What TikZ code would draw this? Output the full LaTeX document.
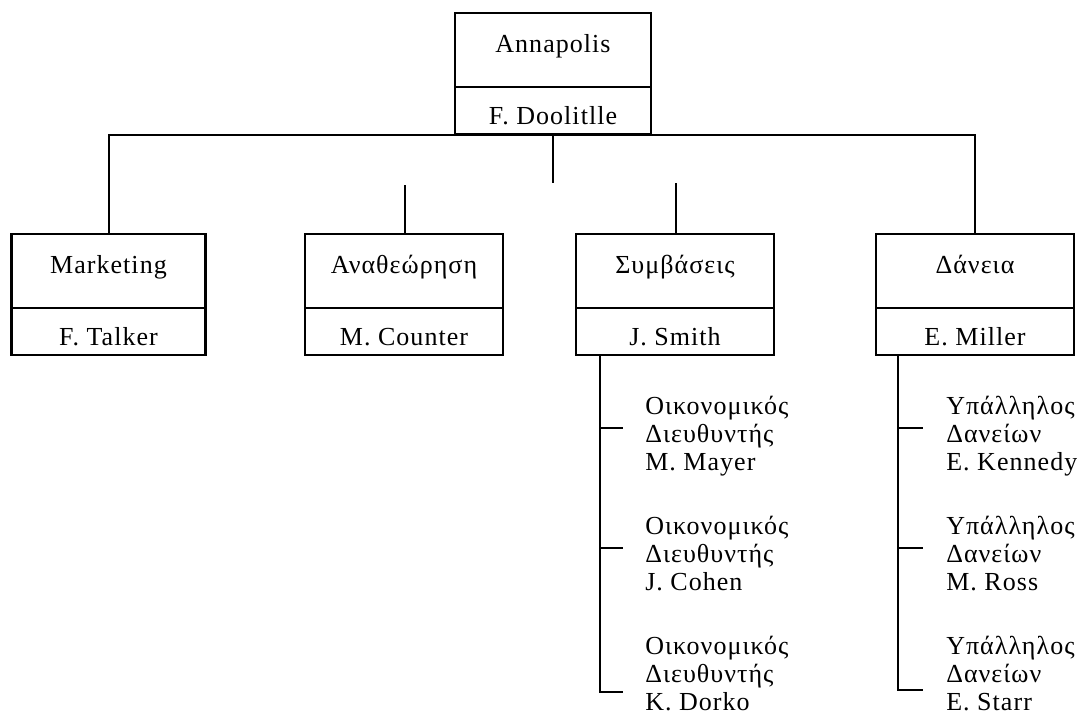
\documentclass[tikz,border=0pt]{standalone}
\usepackage{fontspec}
\setmainfont{Liberation Serif}[LetterSpace=4]
\usetikzlibrary{calc}

% one organisational unit: a title cell on top of a name cell
% #1 name, #2 centre x, #3 top y, #4 width, #5 title, #6 person
\newcommand\orgunit[6]{%
  \node[headcell, minimum width=#4*0.75pt] (#1) at (#2,#3+37) {};
  \node[namecell, minimum width=#4*0.75pt] (#1-p) at (#2,#3+74+23.5) {};
  \node[celltext] (#1-t) at (#2,#3+39) {#5};
  \node[celltext] (#1-n) at (#2,#3+74+37) {#6};
}

% three lines of a staff entry, first baseline at (#2,#3)
\newcommand\staffentry[6]{%
  \node[staffline] (#1) at (#2,#3) {#4};
  \node[staffline] (#1-b) at (#2,#3+28) {#5};
  \node[staffline] (#1-c) at (#2,#3+56) {#6};
}

\begin{document}
\begin{tikzpicture}[x=0.75pt,y=-0.75pt,
  font=\fontsize{19.5}{22}\selectfont,
  headcell/.style={draw, line width=1.6pt, minimum height=74*0.75pt, inner sep=0pt},
  namecell/.style={draw, line width=1.6pt, minimum height=47*0.75pt, inner sep=0pt},
  celltext/.style={anchor=base, inner sep=0pt},
  staffline/.style={anchor=base west, inner sep=0pt},
  wire/.style={line width=1.5pt},
  twig/.style={line width=1.1pt}]

\useasboundingbox (0,0) rectangle (1077,722);

% boxes
\orgunit{root}{553}{13}{196}{Annapolis}{F. Doolitlle}
\orgunit{mkt}{108.5}{234}{194}{Marketing}{F. Talker}
\orgunit{ana}{404}{234}{198}{Αναθεώρηση}{M. Counter}
\orgunit{con}{675}{234}{198}{Συμβάσεις}{J. Smith}
\orgunit{dan}{975}{234}{198}{Δάνεια}{E. Miller}

% main branch line
\draw[wire] (mkt.north) -- (mkt.north |- root-p.south)
  -- (dan.north |- root-p.south) -- (dan.north);
\coordinate (rootstub) at (553,183);
\draw[wire] (root-p.south) -- (rootstub);
\coordinate (anastub) at (405,185);
\draw[wire] (anastub) -- (anastub |- ana.north);
\coordinate (constub) at (676,183);
\draw[wire] (constub) -- (constub |- con.north);

% staff under Συμβάσεις
\staffentry{c1}{645}{414}{Οικονομικός}{Διευθυντής}{M. Mayer}
\staffentry{c2}{645}{534}{Οικονομικός}{Διευθυντής}{J. Cohen}
\staffentry{c3}{645}{654}{Οικονομικός}{Διευθυντής}{K. Dorko}
\coordinate (ctop) at ($(con-p.south west)+(25,0)$);
\coordinate (ct1) at (623,428);
\coordinate (ct2) at (623,548);
\coordinate (ct3) at (623,692);
\draw[wire] (ctop) -- (ctop |- ct3) -- (ct3);
\draw[twig] (ct1 -| ctop) -- (ct1);
\draw[twig] (ct2 -| ctop) -- (ct2);

% staff under Δάνεια
\staffentry{d1}{946}{414}{Υπάλληλος}{Δανείων}{E. Kennedy}
\staffentry{d2}{946}{534}{Υπάλληλος}{Δανείων}{M. Ross}
\staffentry{d3}{946}{654}{Υπάλληλος}{Δανείων}{E. Starr}
\coordinate (dtop) at ($(dan-p.south west)+(23,0)$);
\coordinate (dt1) at (923,428);
\coordinate (dt2) at (923,548);
\coordinate (dt3) at (923,690);
\draw[wire] (dtop) -- (dtop |- dt3) -- (dt3);
\draw[twig] (dt1 -| dtop) -- (dt1);
\draw[twig] (dt2 -| dtop) -- (dt2);
\end{tikzpicture}
\end{document}
